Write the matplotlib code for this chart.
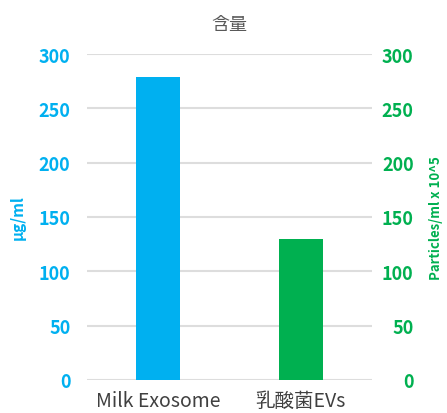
import matplotlib.pyplot as plt

plt.rcParams["font.family"] = ["Noto Sans CJK JP", "DejaVu Sans"]

categories = ["Milk Exosome", "乳酸菌EVs"]
protein_ug_ml = [279, 0]          # left axis (blue)
particles_1e5 = [0, 130]          # right axis (green)
y_ticks = [0, 50, 100, 150, 200, 250, 300]

BLUE = "#00B0F0"
GREEN = "#00B050"

fig = plt.figure(figsize=(4.47, 4.14), dpi=100)
ax = fig.add_axes([0.195, 0.080, 0.637, 0.787])
ax2 = ax.twinx()

x = range(len(categories))
ax.bar(x, protein_ug_ml, width=0.31, color=BLUE, zorder=3)
ax2.bar(x, particles_1e5, width=0.31, color=GREEN, zorder=3)

for a, col in [(ax, BLUE), (ax2, GREEN)]:
    a.set_ylim(0, 300)
    a.set_yticks(y_ticks)
    a.tick_params(axis="y", length=0, colors=col, labelsize=13)
    for lab in a.get_yticklabels():
        lab.set_fontweight("bold")
    for s in a.spines.values():
        s.set_visible(False)

ax.tick_params(axis="y", pad=12)
ax2.tick_params(axis="y", pad=30)
for lab in ax2.get_yticklabels():
    lab.set_horizontalalignment("right")

ax.set_xlim(-0.5, 1.5)
ax.set_xticks(list(x))
ax.set_xticklabels(categories, fontsize=14, color="#404040")
ax.tick_params(axis="x", length=0, pad=7)
ax.grid(axis="y", color="#DDDDDD", linewidth=1.5, zorder=0)
ax.set_axisbelow(True)

ax.set_ylabel("μg/ml", color=BLUE, fontsize=11, fontweight="bold")
ax.yaxis.set_label_coords(-0.215, 0.5)
ax2.set_ylabel("Particles/ml x 10^5", color=GREEN, fontsize=9.5, fontweight="bold", rotation=90)
ax2.yaxis.set_label_coords(1.2, 0.5)
ax.set_title("含量", fontsize=13, color="#595959", pad=18)

fig.savefig("out.png", dpi=100)
